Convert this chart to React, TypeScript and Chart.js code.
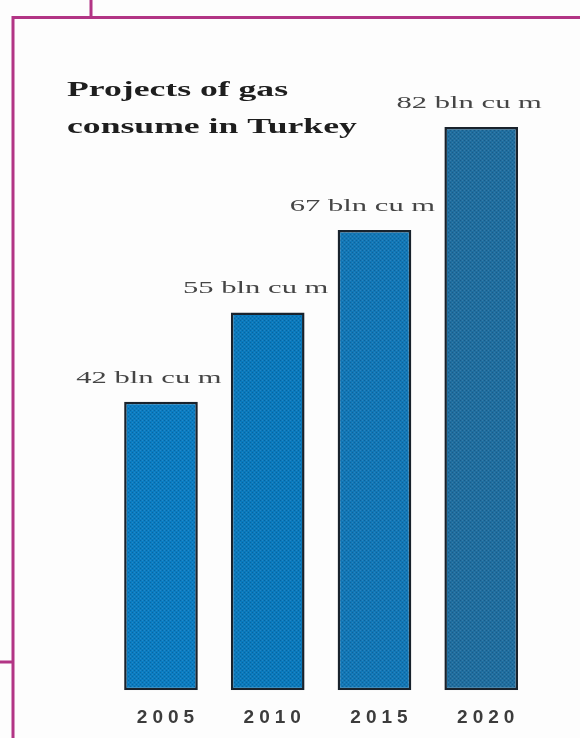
import { useEffect, useRef } from "react";
import { Chart, registerables } from "chart.js";

Chart.register(...registerables);

const years = ["2005", "2010", "2015", "2020"];
const consumption = [42, 55, 67, 82];
const valueLabels = ["42 bln cu m", "55 bln cu m", "67 bln cu m", "82 bln cu m"];
const titleLines = ["Projects of gas", "consume in Turkey"];
const barColors = ["#0b7cc1", "#0a79bc", "#1277b6", "#206e9f"];

function makePattern(ctx: CanvasRenderingContext2D, base: string) {
  const c = document.createElement("canvas");
  c.width = 4;
  c.height = 4;
  const p = c.getContext("2d")!;
  p.fillStyle = base;
  p.fillRect(0, 0, 4, 4);
  p.fillStyle = "rgba(0,30,60,0.22)";
  p.fillRect(0, 0, 1, 1);
  p.fillRect(2, 2, 1, 1);
  p.fillStyle = "rgba(255,255,255,0.10)";
  p.fillRect(2, 0, 1, 1);
  p.fillRect(0, 2, 1, 1);
  return ctx.createPattern(c, "repeat") as CanvasPattern;
}

const decor = {
  id: "decor",
  beforeDraw(chart: any) {
    const { ctx, width, height } = chart;
    ctx.save();
    ctx.fillStyle = "#fdfdfd";
    ctx.fillRect(0, 0, width, height);
    ctx.strokeStyle = "#b23585";
    ctx.lineWidth = 3;
    ctx.beginPath();
    ctx.moveTo(13, 738);
    ctx.lineTo(13, 17.5);
    ctx.lineTo(580, 17.5);
    ctx.moveTo(91, 0);
    ctx.lineTo(91, 17.5);
    ctx.moveTo(0, 662);
    ctx.lineTo(13, 662);
    ctx.stroke();
    ctx.fillStyle = "#1e1e1e";
    ctx.font = "bold 22px 'Liberation Serif'";
    ctx.textBaseline = "alphabetic";
    ctx.textAlign = "left";
    titleLines.forEach((t, i) => {
      ctx.save();
      ctx.translate(67, 96 + i * 37);
      ctx.scale(1.62, 1);
      ctx.fillText(t, 0, 0);
      ctx.restore();
    });
    ctx.restore();
    ctx.letterSpacing = "5px";
  },
  afterDatasetsDraw(chart: any) {
    const ctx = chart.ctx;
    ctx.letterSpacing = "0px";
    const meta = chart.getDatasetMeta(0);
    ctx.save();
    ctx.font = "17px 'Liberation Serif'";
    ctx.fillStyle = "#454545";
    ctx.textAlign = "center";
    ctx.textBaseline = "alphabetic";
    meta.data.forEach((bar: any, i: number) => {
      ctx.save();
      ctx.translate(bar.x - 12, bar.y - 19);
      ctx.scale(1.8, 1);
      ctx.fillText(valueLabels[i], 0, 0);
      ctx.restore();
    });
    ctx.restore();
  },
};

export default function App() {
  const ref = useRef<HTMLCanvasElement>(null);
  useEffect(() => {
    const canvas = ref.current!;
    const ctx = canvas.getContext("2d")!;
    const patterns = barColors.map((c) => makePattern(ctx, c));
    const chart = new Chart(canvas, {
      type: "bar",
      data: {
        labels: years,
        datasets: [
          {
            data: consumption,
            backgroundColor: patterns,
            borderColor: "#18222c",
            borderWidth: 2.5,
            borderSkipped: false,
            categoryPercentage: 1,
            barPercentage: 0.69,
          },
        ],
      },
      options: {
        animation: false,
        responsive: false,
        devicePixelRatio: 1,
        layout: { padding: { left: 107.6, right: 45.4, top: 72, bottom: -7 } },
        plugins: {
          legend: { display: false },
          tooltip: { enabled: false },
          title: { display: false },
        },
        scales: {
          x: {
            grid: { display: false, drawTicks: false },
            border: { display: false },
            ticks: {
              font: { family: "'Liberation Sans'", size: 19, weight: "bold" },
              color: "#3c3c3c",
              padding: 16,
              labelOffset: 7,
              autoSkip: false,
              maxRotation: 0,
            },
          },
          y: { display: false, min: 0, max: 90 },
        },
      },
      plugins: [decor],
    });
    return () => chart.destroy();
  }, []);
  return (
    <div style={{ position: "fixed", left: 0, top: 0, width: 580, height: 738, background: "#fdfdfd" }}>
      <canvas ref={ref} width={580} height={738} style={{ display: "block" }} />
    </div>
  );
}
